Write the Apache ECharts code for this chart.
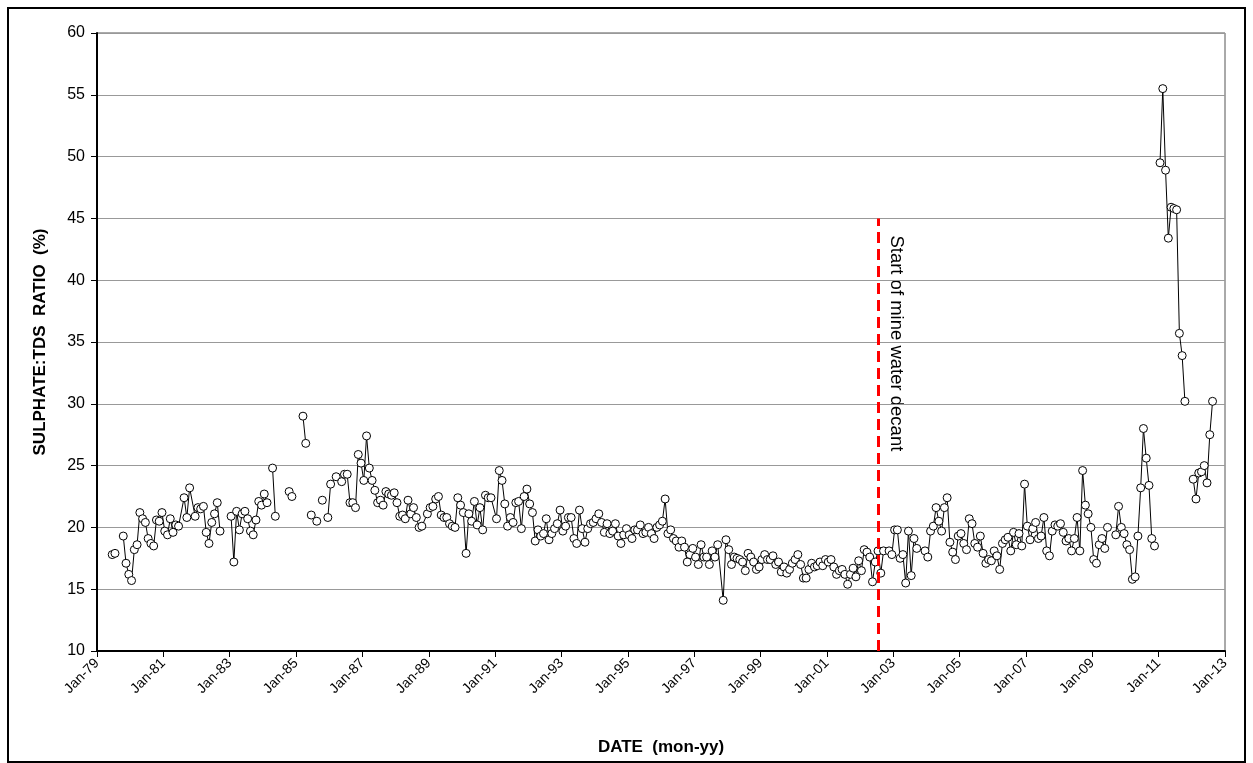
<!DOCTYPE html>
<html>
<head>
<meta charset="utf-8">
<script src="https://cdn.jsdelivr.net/npm/echarts@6/dist/echarts.min.js"></script>
<style>
  html, body { margin: 0; padding: 0; background: #fff; }
  #main { width: 1253px; height: 763px; }
</style>
</head>
<body>
<div id="main"></div>
<script>
// sulphate:TDS ratio (%), one row per year, Jan..Dec, null = no sample
var firstYear = 1979;
var ratioByYear = [
  [null, null, null, null, null, 17.8, 17.9, null, null, 19.3, 17.1, 16.2], // 1979
  [15.7, 18.2, 18.6, 21.2, 20.7, 20.4, 19.1, 18.7, 18.5, 20.6, 20.5, 21.2], // 1980
  [19.7, 19.4, 20.7, 19.6, 20.2, 20.1, null, 22.4, 20.8, 23.2, null, 20.9], // 1981
  [21.6, 21.5, 21.7, 19.6, 18.7, 20.4, 21.1, 22.0, 19.7, null, null, null], // 1982
  [20.9, 17.2, 21.3, 19.8, 21.1, 21.3, 20.7, 19.7, 19.4, 20.6, 22.1, 21.8], // 1983
  [22.7, 22.0, null, 24.8, 20.9, null, null, null, null, 22.9, 22.5, null], // 1984
  [null, null, 29.0, 26.8, null, 21.0, null, 20.5, null, 22.2, null, 20.8], // 1985
  [23.5, null, 24.1, null, 23.7, 24.3, 24.3, 22.0, 22.0, 21.6, 25.9, 25.2], // 1986
  [23.8, 27.4, 24.8, 23.8, 23.0, 22.0, 22.2, 21.8, 22.9, 22.7, 22.6, 22.8], // 1987
  [22.0, 20.9, 21.0, 20.7, 22.2, 21.1, 21.6, 20.8, 20.0, 20.1, null, 21.1], // 1988
  [21.6, 21.7, 22.3, 22.5, 21.0, 20.8, 20.8, 20.3, 20.1, 20.0, 22.4, 21.8], // 1989
  [21.2, 17.9, 21.1, 20.5, 22.1, 20.2, 21.6, 19.8, 22.6, 22.4, 22.4, null], // 1990
  [20.7, 24.6, 23.8, 21.9, 20.1, 20.8, 20.4, 22.0, 22.1, 19.9, 22.5, 23.1], // 1991
  [21.9, 21.2, 18.9, 19.8, 19.3, 19.5, 20.7, 19.0, 19.5, 19.9, 20.3, 21.4], // 1992
  [19.7, 20.1, 20.8, 20.8, 19.1, 18.7, 21.4, 19.9, 18.8, 19.9, 20.3, 20.4], // 1993
  [20.7, 21.1, 20.4, 19.6, 20.3, 19.5, 19.7, 20.3, 19.3, 18.7, 19.4, 19.9], // 1994
  [19.4, 19.1, 19.8, 19.8, 20.2, 19.5, 19.6, 20.0, 19.5, 19.1, 20.0, 20.2], // 1995
  [20.5, 22.3, 19.5, 19.8, 19.1, 18.9, 18.4, 18.9, 18.4, 17.2, 17.8, 18.3], // 1996
  [17.6, 17.0, 18.6, 17.6, 17.6, 17.0, 18.1, 17.6, 18.6, null, 14.1, 19.0], // 1997
  [18.2, 17.0, 17.6, 17.5, 17.4, 17.2, 16.5, 17.9, 17.6, 17.2, 16.6, 16.8], // 1998
  [17.4, 17.8, 17.4, 17.4, 17.7, 17.0, 17.2, 16.4, 16.8, 16.3, 16.6, 17.1], // 1999
  [17.4, 17.8, 17.0, 15.9, 15.9, 16.6, 17.1, 16.8, 16.9, 17.2, 16.9, 17.4], // 2000
  [17.2, 17.4, 16.8, 16.2, 16.5, 16.6, 16.2, 15.4, 16.2, 16.7, 16.0, 17.3], // 2001
  [16.5, 18.2, 18.0, 17.6, 15.6, 17.2, 18.1, 16.3, 18.1, null, 18.1, 17.8], // 2002
  [19.8, 19.8, 17.5, 17.8, 15.5, 19.7, 16.1, 19.1, 18.3, null, null, 18.1], // 2003
  [17.6, 19.7, 20.1, 21.6, 20.5, 19.7, 21.6, 22.4, 18.8, 18.0, 17.4, 19.3], // 2004
  [19.5, 18.7, 18.2, 20.7, 20.3, 18.7, 18.4, 19.3, 17.9, 17.1, 17.4, 17.3], // 2005
  [18.1, 17.7, 16.6, 18.7, 19.0, 19.2, 18.1, 19.6, 18.6, 19.5, 18.5, 23.5], // 2006
  [20.1, 19.0, 19.9, 20.4, 19.1, 19.3, 20.8, 18.1, 17.7, 19.7, 20.2, 20.1], // 2007
  [20.3, 19.6, 18.9, 19.1, 18.1, 19.1, 20.8, 18.1, 24.6, 21.8, 21.1, 20.0], // 2008
  [17.4, 17.1, 18.6, 19.1, 18.3, 20.0, null, null, 19.4, 21.7, 20.0, 19.5], // 2009
  [18.6, 18.2, 15.8, 16.0, 19.3, 23.2, 28.0, 25.6, 23.4, 19.1, 18.5, null], // 2010
  [49.5, 55.5, 48.9, 43.4, 45.9, 45.8, 45.7, 35.7, 33.9, 30.2, null, null], // 2011
  [23.9, 22.3, 24.4, 24.5, 25.0, 23.6, 27.5, 30.2, null, null, null, null]  // 2012
];
// months after which the plotted line is broken
var lineBreaks = ['1979-07', '1982-09', '1984-02', '1984-05', '1984-11', '1985-04',
  '1985-06', '1985-08', '1985-10', '2009-06', '2010-11', '2011-10'];
var decantMonth = '2002-07';
var decantTop = 45;

// sample dates plotted mid-month, as decimal years
function toYear(yr, m) { return yr + (m + 0.5) / 12; }

var seriesData = [];
ratioByYear.forEach(function (row, i) {
  var yr = firstYear + i;
  row.forEach(function (v, m) {
    if (v == null) return;
    seriesData.push([toYear(yr, m), v]);
    var key = yr + '-' + (m < 9 ? '0' : '') + (m + 1);
    if (lineBreaks.indexOf(key) >= 0) seriesData.push([toYear(yr, m) + 0.04, '-']);
  });
});

var dParts = decantMonth.split('-');
var decantX = toYear(+dParts[0], +dParts[1] - 1);

var font = 'Arial, "Liberation Sans", sans-serif';
var chart = echarts.init(document.getElementById('main'));

var frames = [
  { type: 'rect', shape: { x: 8, y: 8, width: 1237, height: 754 },
    style: { fill: 'none', stroke: '#000', lineWidth: 2 }, z: -1 },
  { type: 'rect', shape: { x: 97, y: 33, width: 1128, height: 618 },
    style: { fill: 'none', stroke: '#555', lineWidth: 1 }, z: -1 }
];

var option = {
  animation: false,
  backgroundColor: '#fff',
  grid: { left: 97, top: 33, right: 28, bottom: 112 },
  xAxis: {
    type: 'value',
    min: 1979, max: 2013, interval: 2,
    name: 'DATE  (mon-yy)',
    nameLocation: 'middle',
    nameGap: 88,
    nameTextStyle: { fontFamily: font, fontWeight: 'bold', fontSize: 17, color: '#000' },
    axisLine: { lineStyle: { color: '#000', width: 2 } },
    axisTick: { length: 6, lineStyle: { color: '#000', width: 1 } },
    axisLabel: {
      rotate: 45, margin: 10,
      fontFamily: font, fontSize: 14, color: '#000',
      formatter: function (v) { return 'Jan-' + String(v).slice(2); }
    },
    splitLine: { show: false }
  },
  yAxis: {
    type: 'value',
    min: 10, max: 60, interval: 5,
    name: 'SULPHATE:TDS  RATIO  (%)',
    nameLocation: 'middle',
    nameGap: 48,
    nameTextStyle: { fontFamily: font, fontWeight: 'bold', fontSize: 17, color: '#000' },
    axisLine: { show: true, lineStyle: { color: '#000', width: 2 } },
    axisTick: { show: true, length: 6, lineStyle: { color: '#000', width: 1 } },
    axisLabel: { fontFamily: font, fontSize: 16, color: '#000', margin: 12 },
    splitLine: { lineStyle: { color: '#999', width: 1 } }
  },
  graphic: frames,
  series: [{
    type: 'line',
    data: seriesData,
    connectNulls: false,
    showAllSymbol: true,
    symbol: 'circle',
    symbolSize: 8,
    lineStyle: { color: '#000', width: 1 },
    itemStyle: { color: '#fff', borderColor: '#000', borderWidth: 1 },
    markLine: {
      silent: true,
      symbol: 'none',
      label: { show: false },
      lineStyle: { color: '#ff0000', width: 3, type: [11, 6] },
      data: [[{ coord: [decantX, 10] }, { coord: [decantX, decantTop] }]]
    }
  }]
};
chart.setOption(option);

// rotated note beside the decant line
var notePos = chart.convertToPixel({ xAxisIndex: 0, yAxisIndex: 0 }, [decantX, decantTop]);
chart.setOption({
  graphic: frames.concat([{
    type: 'text',
    x: notePos[0] + 18,
    y: notePos[1] + 17,
    rotation: -Math.PI / 2,
    style: {
      text: 'Start of mine water decant',
      font: '18.5px Arial, "Liberation Sans", sans-serif',
      fill: '#000', align: 'left', verticalAlign: 'middle'
    }
  }])
});
</script>
</body>
</html>
